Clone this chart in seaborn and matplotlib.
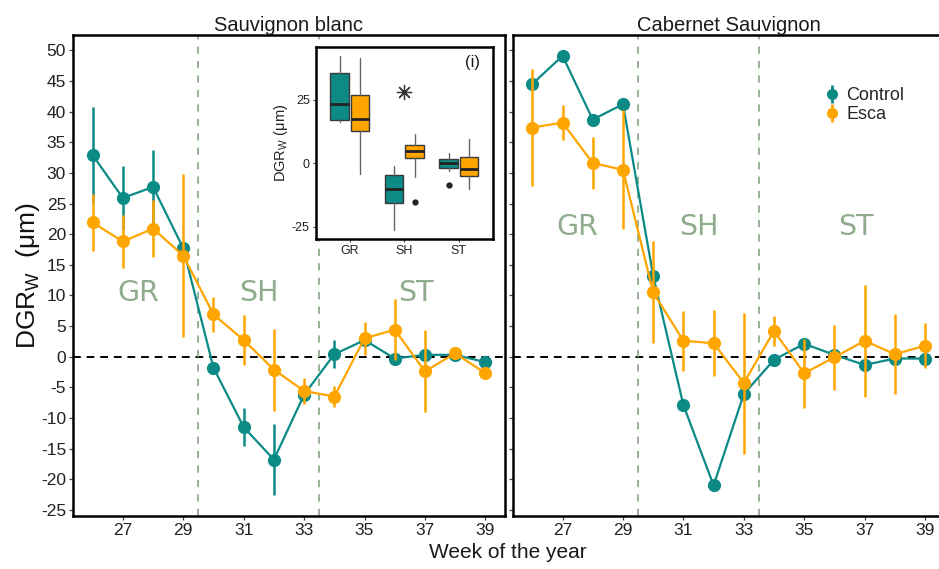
import numpy as np
import pandas as pd
import matplotlib
matplotlib.use("Agg")
import matplotlib.pyplot as plt
from matplotlib.lines import Line2D
from matplotlib.legend_handler import HandlerTuple
import seaborn as sns

# ---------------- data ----------------
weeks = [26, 27, 28, 29, 30, 31, 32, 33, 34, 35, 36, 37, 38, 39]

# Sauvignon blanc
sb_ctrl = [32.9, 25.9, 27.7, 17.7, -1.8, -11.5, -16.8, -6.2, 0.4, 2.7, -0.3, 0.3, 0.3, -0.9]
sb_ctrl_err = [7.8, 5.3, 6.1, 1.0, 0.8, 3.1, 5.8, 1.0, 2.3, 0.8, 0.5, 0.8, 0.5, 1.0]
sb_esca = [21.9, 18.8, 20.9, 16.5, 6.9, 2.7, -2.1, -5.6, -6.5, 3.0, 4.4, -2.4, 0.55, -2.7]
sb_esca_err = [4.7, 4.3, 4.7, 13.3, 2.8, 4.1, 6.7, 2.1, 1.7, 2.7, 5.0, 6.7, 0.5, 0.5]

# Cabernet Sauvignon
cs_ctrl = [44.5, 49.1, 38.7, 41.2, 13.2, -7.9, -21.0, -6.1, -0.5, 2.1, 0.3, -1.35, -0.3, -0.3]
cs_ctrl_err = [0.0] * 14
cs_esca = [37.4, 38.2, 31.6, 30.5, 10.5, 2.6, 2.2, -4.3, 4.2, -2.7, -0.1, 2.6, 0.4, 1.8]
cs_esca_err = [9.6, 2.9, 4.2, 9.7, 8.3, 4.9, 5.4, 11.5, 2.5, 5.6, 5.3, 9.1, 6.5, 3.7]

phases = ["GR", "SH", "ST"]
phase_x = [27.5, 31.5, 36.7]
phase_bounds = [29.5, 33.5]

# inset box statistics (Sauvignon blanc): whislo, q1, med, q3, whishi
box_ctrl = [[16.4, 17.1, 23.4, 35.5, 42.4],
            [-26.3, -15.8, -10.1, -4.6, -1.1],
            [-3.0, -2.0, 0.2, 1.6, 4.2]]
box_ctrl_fliers = [[], [], [-8.6]]
box_esca = [[-4.2, 12.9, 17.4, 27.0, 41.7],
            [-5.3, 2.0, 5.0, 7.2, 11.6],
            [-10.1, -5.0, -2.4, 2.4, 9.5]]
box_esca_fliers = [[], [-15.4], []]
signif_y = 28.3

TEAL = "#0b8a86"
ORANGE = "#ffa500"
SAGE = "#8fac8c"
palette = {"Control": TEAL, "Esca": ORANGE}

# ---------------- style ----------------
sns.set_theme(style="white")
plt.rcParams["font.family"] = ["Liberation Sans", "DejaVu Sans"]
plt.rcParams["mathtext.fontset"] = "custom"
plt.rcParams["mathtext.rm"] = "Liberation Sans"
plt.rcParams["axes.unicode_minus"] = False

fig = plt.figure(figsize=(9.39, 5.69), dpi=100)
W, H = 939, 569
def pos(x0, y0, x1, y1):
    return [x0 / W, 1 - y1 / H, (x1 - x0) / W, (y1 - y0) / H]

axL = fig.add_axes(pos(73, 35, 505, 516))
axR = fig.add_axes(pos(512.7, 35, 944.7, 516))

panels = [
    (axL, "Sauvignon blanc", sb_ctrl, sb_ctrl_err, sb_esca, sb_esca_err, 10.4),
    (axR, "Cabernet Sauvignon", cs_ctrl, cs_ctrl_err, cs_esca, cs_esca_err, 21.2),
]

for ax, title, c, ce, e, ee, ty in panels:
    df = pd.DataFrame({
        "week": weeks * 2,
        "dgr": c + e,
        "err": ce + ee,
        "treatment": ["Control"] * len(weeks) + ["Esca"] * len(weeks),
    })
    ax.axhline(0, color="black", linestyle=(0, (4, 3)), linewidth=1.4, zorder=1)
    for b in phase_bounds:
        ax.axvline(b, color=SAGE, linestyle=(0, (4, 4)), linewidth=1.3, zorder=1)
    for p, px in zip(phases, phase_x):
        ax.text(px, ty, p, color=SAGE, fontsize=20.5, ha="center", va="center",
                family="DejaVu Sans", zorder=1)
    for t in ["Control", "Esca"]:
        sub = df[df.treatment == t]
        sns.lineplot(data=sub, x="week", y="dgr", color=palette[t], marker="o",
                     markersize=9.5, markeredgewidth=0, linewidth=1.6,
                     errorbar=None, legend=False, ax=ax, zorder=3)
        ax.errorbar(sub.week, sub.dgr, yerr=sub.err, fmt="none",
                    ecolor=palette[t], elinewidth=1.8, capsize=0, zorder=3)
    ax.set_xlim(25.35, 39.65)
    ax.set_ylim(-26.0, 52.5)
    ax.set_xticks([27, 29, 31, 33, 35, 37, 39])
    ax.set_yticks(np.arange(-25, 51, 5))
    ax.set_xlabel("")
    ax.set_ylabel("")
    ax.set_title(title, fontsize=14.5, pad=3, color="#1a1a1a")
    for s in ax.spines.values():
        s.set_linewidth(1.8)
        s.set_color("black")
    ax.tick_params(axis="both", direction="out", length=3, width=0.9,
                   color="#444444", labelsize=12.5, labelcolor="#222222",
                   left=True, bottom=True, pad=2)

axR.tick_params(labelleft=False)
axR.spines["right"].set_visible(False)
axL.set_ylabel(r"DGR$_\mathregular{W}$  (μm)", fontsize=19, labelpad=-1, color="#111111")
fig.text(508 / W, 1 - 552 / H, "Week of the year", ha="center", va="center",
         fontsize=15, color="#1a1a1a")

# legend
handles = [
    (Line2D([], [], color=palette[t], marker="|", markersize=13, mew=2, linestyle="none"),
     Line2D([], [], color=palette[t], marker="o", markersize=8, mew=0, linestyle="none"))
    for t in ["Control", "Esca"]
]
axR.legend(handles, ["Control", "Esca"], handler_map={tuple: HandlerTuple(ndivide=1)},
           loc="center left", bbox_to_anchor=(814 / W, 1 - 105 / H),
           bbox_transform=fig.transFigure, frameon=False, fontsize=13,
           handlelength=1.0, handletextpad=0.3, labelspacing=0.1, borderpad=0)

# inset
axI = fig.add_axes(pos(316, 46.7, 492.7, 239))
stats = []
positions = []
colors = []
for i in range(3):
    for boxes, fl, off, col in [(box_ctrl, box_ctrl_fliers, -0.1875, TEAL),
                                (box_esca, box_esca_fliers, 0.1875, ORANGE)]:
        wl, q1, md, q3, wh = boxes[i]
        stats.append({"whislo": wl, "q1": q1, "med": md, "q3": q3, "whishi": wh,
                      "fliers": fl[i]})
        positions.append(i + off)
        colors.append(col)
bp = axI.bxp(stats, positions=positions, widths=0.3375, patch_artist=True,
             showcaps=False,
             boxprops=dict(edgecolor="#3a3a3a", linewidth=1.0),
             medianprops=dict(color="#222222", linewidth=2.0),
             whiskerprops=dict(color="#666666", linewidth=1.0),
             flierprops=dict(marker="o", markerfacecolor="#222222",
                             markeredgecolor="#222222", markersize=3.5))
for patch, col in zip(bp["boxes"], colors):
    patch.set_facecolor(col)
axI.plot([1], [signif_y], marker=(8, 2, 0), color="#333333", markersize=11,
         mew=0.9, linestyle="none")
axI.set_xlim(-0.62, 2.62)
axI.set_ylim(-29.9, 46.0)
axI.set_xticks([0, 1, 2])
axI.set_xticklabels(phases)
axI.set_yticks([-25, 0, 25])
axI.set_ylabel(r"DGR$_\mathregular{W}$ (μm)", fontsize=10.5, labelpad=1, color="#222222")
axI.tick_params(axis="both", direction="out", length=2.5, width=0.8, color="#444444",
                labelsize=9, labelcolor="#222222", left=True, bottom=True, pad=2)
for s in axI.spines.values():
    s.set_linewidth(1.8)
    s.set_color("black")
axI.text(0.885, 0.92, "(i)", transform=axI.transAxes, ha="center", va="center",
         fontsize=12, color="#1a1a1a")

fig.savefig("out.png", dpi=100)
